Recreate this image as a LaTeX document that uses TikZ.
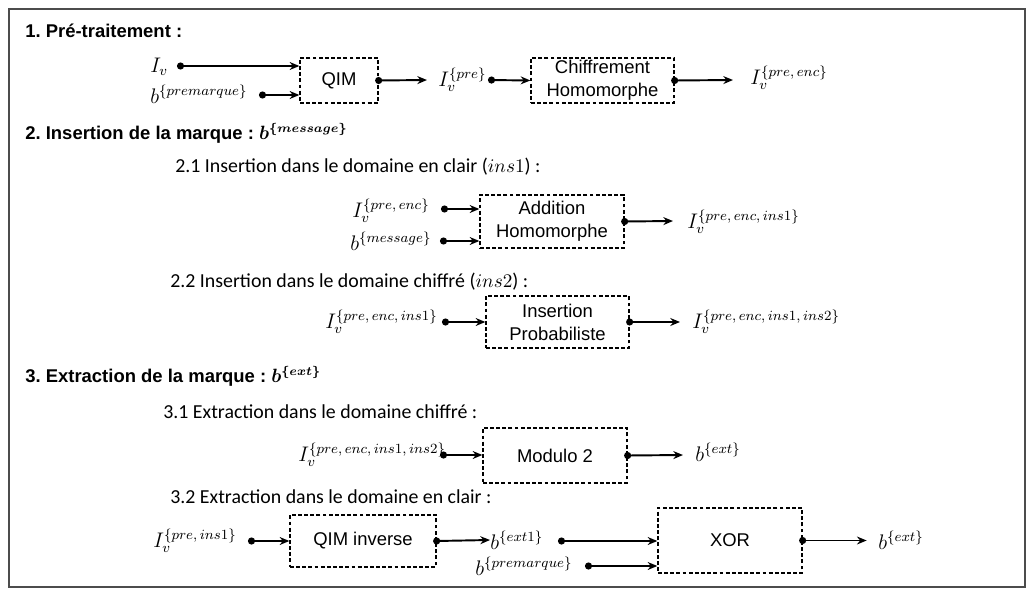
\documentclass[tikz,border=0pt]{standalone}
\usepackage{fontspec}
\setmainfont{Liberation Sans}
\newfontfamily\sousfont{Carlito}
\usetikzlibrary{arrows.meta}
\frenchspacing

\begin{document}
\begin{tikzpicture}[x=0.02cm,y=0.02cm]
\tikzstyle{every node}+=[inner sep=0pt]
\tikzstyle{bloc}=[draw, line width=0.75pt, dash pattern=on 2.2pt off 1.3pt, align=center, font=\fontsize{10.5}{13}\selectfont]
\tikzstyle{fleche}=[line width=1.1pt, {Circle[length=4pt]}-{Stealth[length=5.5pt,width=4.5pt]}]
\tikzstyle{sortie}=[fleche, shorten <=-2pt]
\tikzstyle{titre}=[anchor=west, font=\bfseries\fontsize{10.5}{12}\selectfont]
\tikzstyle{sous}=[anchor=west, font=\sousfont\fontsize{11.3}{13}\selectfont]
\tikzstyle{lbl}=[anchor=west, font=\fontsize{12}{14}\selectfont]
\useasboundingbox (0,0) rectangle (1035,-595);
\draw [black!70, line width=0.6pt] (9,-9) rectangle (1025,-587);
% 1. pre-traitement
\node [titre] (t1) at (25,-31) {1. Pré-traitement :};
\node [lbl] (iv) at (150,-67) {$I_v$};
\node [lbl] (bpre) at (150,-94) {$b^{\{premarque\}}$};
\node [bloc, minimum width=1.56cm, minimum height=0.9cm] (qim) at (339,-80.5) {QIM};
\node [lbl] (ivpre) at (438,-80) {$I_v^{\{pre\}}$};
\node [bloc, minimum width=2.86cm, minimum height=0.9cm] (chiff) at (602.5,-80.5) {Chiffrement\\Homomorphe};
\node [lbl] (ivenc) at (750,-78) {$I_v^{\{pre,\,enc\}}$};
\coordinate (d1) at (177,-66);
\coordinate (d2) at (259,-95);
\coordinate (d3) at (488,-80);
\coordinate (a1) at (427,-80);
\coordinate (a2) at (733,-80);
\draw [fleche] (d1) -- (qim.west |- d1);
\draw [fleche] (d2) -- (qim.west |- d2);
\draw [sortie] (qim.east) -- (a1);
\draw [fleche] (d3) -- (chiff.west);
\draw [sortie] (chiff.east) -- (a2);
% 2. insertion
\node [titre] (t2) at (25,-133) {2. Insertion de la marque : {\boldmath$b^{\{message\}}$}};
\node [sous] (t21) at (175,-167) {2.1 Insertion dans le domaine en clair ($ins1$) :};
\node [lbl] (ivenc2) at (352,-211) {$I_v^{\{pre,\,enc\}}$};
\node [lbl] (bmsg) at (350,-241) {$b^{\{message\}}$};
\node [bloc, minimum width=2.88cm, minimum height=1.06cm] (addit) at (552,-221.5) {Addition\\Homomorphe};
\node [lbl] (ivins1) at (687,-222) {$I_v^{\{pre,\,enc,\,ins1\}}$};
\coordinate (d4) at (441,-209);
\coordinate (d5) at (440,-241);
\coordinate (a3) at (673,-221);
\draw [fleche] (d4) -- (addit.west |- d4);
\draw [fleche] (d5) -- (addit.west |- d5);
\draw [sortie] (addit.east) -- (a3);
\node [sous] (t22) at (170,-282) {2.2 Insertion dans le domaine chiffré ($ins2$) :};
\node [lbl] (ivins1b) at (325,-322) {$I_v^{\{pre,\,enc,\,ins1\}}$};
\node [bloc, minimum width=2.86cm, minimum height=1.04cm] (proba) at (557.5,-322) {Insertion\\Probabiliste};
\node [lbl] (ivins12) at (692,-322) {$I_v^{\{pre,\,enc,\,ins1,\,ins2\}}$};
\coordinate (d6) at (442,-322);
\coordinate (a4) at (680,-322);
\draw [fleche] (d6) -- (proba.west);
\draw [sortie] (proba.east) -- (a4);
% 3. extraction
\node [titre] (t3) at (25,-376) {3. Extraction de la marque : {\boldmath$b^{\{ext\}}$}};
\node [sous] (t31) at (163,-412) {3.1 Extraction dans le domaine chiffré :};
\node [lbl] (ivall) at (298,-455) {$I_v^{\{pre,\,enc,\,ins1,\,ins2\}}$};
\node [bloc, minimum width=2.88cm, minimum height=1.1cm] (modulo) at (555,-455.5) {Modulo 2};
\node [lbl] (bext) at (695,-452) {$b^{\{ext\}}$};
\coordinate (d7) at (440,-455);
\coordinate (a5) at (683,-455);
\draw [fleche] (d7) -- (modulo.west |- d7);
\draw [sortie] (modulo.east) -- (a5);
\node [sous] (t32) at (170,-497) {3.2 Extraction dans le domaine en clair :};
\node [lbl] (ivpreins1) at (153,-541) {$I_v^{\{pre,\,ins1\}}$};
\node [bloc, minimum width=2.92cm, minimum height=1.04cm] (qiminv) at (363,-541) {QIM inverse};
\node [lbl] (bext1) at (490,-540) {$b^{\{ext1\}}$};
\node [lbl] (bpre2) at (475,-566) {$b^{\{premarque\}}$};
\node [bloc, minimum width=2.88cm, minimum height=1.3cm] (xor) at (730,-540.5) {XOR};
\node [lbl] (bext2) at (878,-540) {$b^{\{ext\}}$};
\coordinate (d8) at (248,-541);
\coordinate (d9) at (558,-541);
\coordinate (d10) at (585,-566);
\draw [fleche] (d8) -- (qiminv.west);
\draw [sortie] (qiminv.east) -- (bext1.west);
\draw [fleche] (d9) -- (xor.west |- d9);
\draw [fleche] (d10) -- (xor.west |- d10);
\draw [sortie] (xor.east) -- ++(64,0);
\end{tikzpicture}
\end{document}
